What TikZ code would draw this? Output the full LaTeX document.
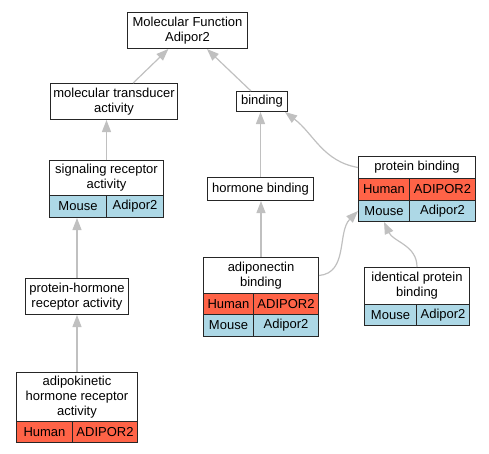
\documentclass[tikz,border=0pt]{standalone}
\usepackage{fontspec}
\setmainfont{Liberation Sans}
\usetikzlibrary{arrows.meta}

\definecolor{humanred}{HTML}{FF6347}
\definecolor{mouseblue}{HTML}{ADD8E6}
\definecolor{edgegray}{HTML}{C0C0C0}

\tikzset{
  term/.style={draw=black!85, line width=1, fill=white, inner sep=0,
    align=center, anchor=north west, font=\fontsize{13}{15}\selectfont},
  humancell/.style={term, fill=humanred},
  mousecell/.style={term, fill=mouseblue},
  isa/.style={draw=edgegray, line width=1.2, -{Triangle[length=12,width=9]}},
}

\begin{document}
\begin{tikzpicture}[x=1pt, y=-1pt]
      \useasboundingbox (0,0) rectangle (489,453);
      % terms
      \node[term, minimum width=120, minimum height=36] (mf) at (127,12) {Molecular Function\\Adipor2};
      \node[term, minimum width=127, minimum height=36] (mta) at (50,83) {molecular transducer\\activity};
      \node[term, minimum width=51, minimum height=20] (bind) at (236,91) {binding};
      \node[term, minimum width=114, minimum height=35] (src) at (49,160) {signaling receptor\\activity};
      \node[mousecell, minimum width=57, minimum height=22] (srcm) at (49,195) {Mouse};
      \node[mousecell, minimum width=57, minimum height=22] (srcmg) at (106,195) {Adipor2};
      \node[term, minimum width=103, minimum height=36] (phra) at (25,278) {protein-hormone\\receptor activity};
      \node[term, minimum width=121, minimum height=49] (akh) at (16,372) {adipokinetic\\hormone receptor\\activity};
      \node[humancell, minimum width=56, minimum height=21] (akhh) at (16,421) {Human};
      \node[humancell, minimum width=65, minimum height=21] (akhhg) at (72,421) {ADIPOR2};
      \node[term, minimum width=106, minimum height=23] (hb) at (207,177) {hormone binding};
      \node[term, minimum width=117, minimum height=22] (pb) at (358,156) {protein binding};
      \node[humancell, minimum width=51, minimum height=22] (pbh) at (358,178) {Human};
      \node[humancell, minimum width=66, minimum height=22] (pbhg) at (409,178) {ADIPOR2};
      \node[mousecell, minimum width=51, minimum height=21] (pbm) at (358,200) {Mouse};
      \node[mousecell, minimum width=66, minimum height=21] (pbmg) at (409,200) {Adipor2};
      \node[term, minimum width=115, minimum height=36] (adn) at (203,257) {adiponectin\\binding};
      \node[humancell, minimum width=50, minimum height=21] (adnh) at (203,293) {Human};
      \node[humancell, minimum width=65, minimum height=21] (adnhg) at (253,293) {ADIPOR2};
      \node[mousecell, minimum width=50, minimum height=22] (adnm) at (203,314) {Mouse};
      \node[mousecell, minimum width=65, minimum height=22] (adnmg) at (253,314) {Adipor2};
      \node[term, minimum width=105, minimum height=37] (ipb) at (364,267) {identical protein\\binding};
      \node[mousecell, minimum width=52, minimum height=21] (ipbm) at (364,304) {Mouse};
      \node[mousecell, minimum width=53, minimum height=21] (ipbmg) at (416,304) {Adipor2};
      % is_a edges
      \draw[isa] (mta) -- (mf);
      \draw[isa] (bind) -- (mf);
      \draw[isa] (src.north) -- (src.north |- mta.south);
      \draw[isa] (phra.north) -- (phra.north |- srcm.south);
      \draw[isa] (akh.north) -- (akh.north |- phra.south);
      \draw[isa] (hb.north) -- (hb.north |- bind.south);
      \draw[isa] (adn.north) -- (adn.north |- hb.south);
      \draw[isa] (pb.west) to[out=170, in=-37] ([xshift=-3]bind.south east);
      \draw[isa] (adn.east) to[out=5, in=-135] (pbm.west);
      \draw[isa] (ipb.north) to[out=90, in=-65] (pbm.south);
    \end{tikzpicture}
\end{document}
